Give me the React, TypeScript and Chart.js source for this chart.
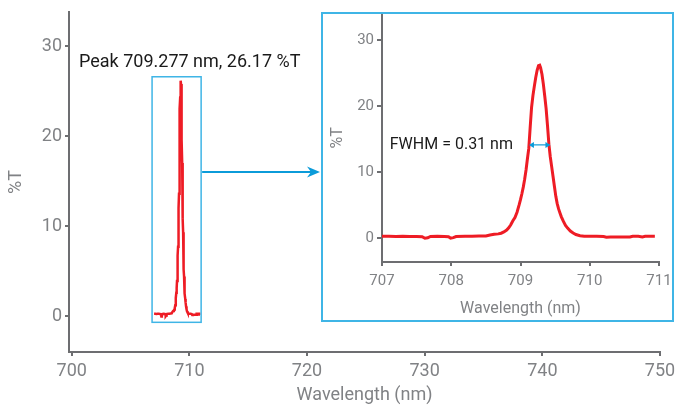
import React, { useEffect, useRef } from "react";
import { Chart, registerables } from "chart.js";

Chart.register(...registerables);

// Measured transmission spectrum around the 709 nm line
const wavelengths = [
  707.0, 707.1, 707.2, 707.3, 707.4, 707.5, 707.58, 707.62, 707.66, 707.7,
  707.8, 707.9, 707.96, 707.99, 708.03, 708.07, 708.2, 708.3, 708.4, 708.5,
  708.56, 708.62, 708.68, 708.72, 708.76, 708.8, 708.83, 708.86, 708.89, 708.92,
  708.95, 708.98, 709.0, 709.02, 709.04, 709.06, 709.08, 709.1, 709.12, 709.14,
  709.16, 709.18, 709.2, 709.22, 709.24, 709.26, 709.277, 709.29, 709.31, 709.33,
  709.35, 709.37, 709.39, 709.41, 709.43, 709.45, 709.47, 709.49, 709.51, 709.53,
  709.55, 709.57, 709.59, 709.62, 709.65, 709.68, 709.72, 709.76, 709.8, 709.86,
  709.92, 710.0, 710.1, 710.2, 710.24, 710.3, 710.4, 710.5, 710.58, 710.62,
  710.7, 710.76, 710.8, 710.94,
];
const transmittance = [
  0.25, 0.25, 0.22, 0.25, 0.24, 0.22, 0.2, -0.05, 0.02, 0.22,
  0.25, 0.22, 0.18, -0.02, 0.05, 0.22, 0.25, 0.25, 0.28, 0.3,
  0.45, 0.55, 0.62, 0.72, 0.92, 1.2, 1.55, 2.0, 2.6, 3.1,
  3.9, 5.0, 5.8, 6.7, 7.7, 8.9, 10.3, 12.0, 13.6, 16.8,
  19.8, 21.6, 23.0, 24.3, 25.4, 26.1, 26.17, 25.8, 24.8, 23.3,
  21.5, 19.6, 17.0, 14.2, 12.3, 10.8, 9.3, 7.8, 6.3, 5.2,
  4.4, 3.8, 3.2, 2.5, 1.9, 1.5, 1.05, 0.75, 0.52, 0.35,
  0.26, 0.25, 0.25, 0.22, 0.12, 0.14, 0.15, 0.13, 0.15, 0.25,
  0.25, 0.16, 0.25, 0.25,
];

const mainXTicks = [700, 710, 720, 730, 740, 750];
const mainYTicks = [0, 10, 20, 30];
const insetXTicks = [707, 708, 709, 710, 711];
const insetYTicks = [0, 10, 20, 30];

const mainXRange = [699.77, 750];
const mainYRange = [-4.0, 33.8];
const insetXRange = [707, 711];
const insetYRange = [-3.64, 34.0];

const peakWavelength = 709.277;
const peakTransmittance = 26.17;
const fwhmNm = 0.31;
const fwhmArrowLevel = 14.1;

// zoom window outlined on the full-range plot
const zoomXRange = [706.83, 711.0];
const zoomYRange = [-0.7, 26.6];
const calloutLevel = 16.0;

const FONT = "Roboto";
const AXIS = "#6d6e71";
const TICK = "#808285";
const RED = "#ee1c25";
const FRAME_BLUE = "#3fb5e6";
const ARROW_BLUE = "#0b9bd9";

const points = wavelengths.map((x, i) => ({ x, y: transmittance[i] }));

const W = 678;
const H = 405;
const INSET = { left: 321, top: 12, width: 353, height: 310 };

function axisStyle(tickSize: number, titleSize: number, tickLen: number) {
  return {
    grid: {
      drawOnChartArea: false,
      drawTicks: true,
      tickLength: tickLen,
      color: AXIS,
      lineWidth: 2,
    },
    border: { color: AXIS, width: 2 },
    ticks: {
      color: TICK,
      font: { family: FONT, size: tickSize },
      padding: 3,
      maxRotation: 0,
      autoSkip: false,
    },
    title: {
      display: true,
      color: TICK,
      font: { family: FONT, size: titleSize, lineHeight: 1.05 },
    },
  };
}

function setTicks(values: number[]) {
  return (scale: any) => {
    scale.ticks = values.map((v) => ({ value: v }));
  };
}

const mainOverlay = {
  id: "mainOverlay",
  afterDatasetsDraw(chart: any) {
    const { ctx, scales } = chart;
    const xs = scales.x;
    const ys = scales.y;
    const x0 = xs.getPixelForValue(zoomXRange[0]);
    const x1 = xs.getPixelForValue(zoomXRange[1]);
    const y0 = ys.getPixelForValue(zoomYRange[1]);
    const y1 = ys.getPixelForValue(zoomYRange[0]);
    ctx.save();
    ctx.strokeStyle = FRAME_BLUE;
    ctx.lineWidth = 1.5;
    ctx.strokeRect(x0, y0, x1 - x0, y1 - y0);

    // callout arrow to the magnified view
    const ay = ys.getPixelForValue(calloutLevel);
    const tipX = INSET.left - 1;
    ctx.strokeStyle = ARROW_BLUE;
    ctx.fillStyle = ARROW_BLUE;
    ctx.lineWidth = 2;
    ctx.beginPath();
    ctx.moveTo(x1 + 1, ay);
    ctx.lineTo(tipX - 8, ay);
    ctx.stroke();
    ctx.beginPath();
    ctx.moveTo(tipX, ay);
    ctx.lineTo(tipX - 13, ay - 5.5);
    ctx.lineTo(tipX - 9, ay);
    ctx.lineTo(tipX - 13, ay + 5.5);
    ctx.closePath();
    ctx.fill();

    ctx.fillStyle = "#1a1a1a";
    ctx.font = `18px ${FONT}`;
    ctx.textAlign = "left";
    ctx.textBaseline = "middle";
    ctx.fillText(
      `Peak ${peakWavelength.toFixed(3)} nm, ${peakTransmittance.toFixed(2)} %T`,
      79,
      62
    );
    ctx.restore();
  },
};

const insetOverlay = {
  id: "insetOverlay",
  afterDatasetsDraw(chart: any) {
    const { ctx, scales, width, height } = chart;
    const xs = scales.x;
    const ys = scales.y;
    ctx.save();
    ctx.strokeStyle = FRAME_BLUE;
    ctx.lineWidth = 2;
    ctx.strokeRect(1, 1, width - 2, height - 2);

    const xl = xs.getPixelForValue(peakWavelength - fwhmNm / 2);
    const xr = xs.getPixelForValue(peakWavelength + fwhmNm / 2);
    const y = ys.getPixelForValue(fwhmArrowLevel);
    ctx.strokeStyle = ARROW_BLUE;
    ctx.fillStyle = ARROW_BLUE;
    ctx.lineWidth = 1.2;
    ctx.beginPath();
    ctx.moveTo(xl + 3, y);
    ctx.lineTo(xr - 3, y);
    ctx.stroke();
    const head = (tx: number, dir: number) => {
      ctx.beginPath();
      ctx.moveTo(tx, y);
      ctx.lineTo(tx - dir * 5, y - 3);
      ctx.lineTo(tx - dir * 5, y + 3);
      ctx.closePath();
      ctx.fill();
    };
    head(xl, -1);
    head(xr, 1);

    ctx.fillStyle = "#1a1a1a";
    ctx.font = `16px ${FONT}`;
    ctx.textAlign = "right";
    ctx.textBaseline = "middle";
    ctx.fillText(`FWHM = ${fwhmNm.toFixed(2)} nm`, xl - 16, y);
    ctx.restore();
  },
};

export default function App() {
  const mainRef = useRef<HTMLCanvasElement | null>(null);
  const insetRef = useRef<HTMLCanvasElement | null>(null);

  useEffect(() => {
    const mainAxes = axisStyle(18, 18, 4);
    const main = new Chart(mainRef.current as HTMLCanvasElement, {
      type: "line",
      data: {
        datasets: [
          {
            data: points,
            borderColor: RED,
            borderWidth: 2.5,
            pointRadius: 0,
            tension: 0,
          },
        ],
      },
      options: {
        responsive: false,
        animation: false,
        devicePixelRatio: 1,
        layout: { padding: { top: 12, right: 18, left: 0, bottom: 0 } },
        plugins: { legend: { display: false }, tooltip: { enabled: false } },
        scales: {
          x: {
            type: "linear",
            min: mainXRange[0],
            max: mainXRange[1],
            ...mainAxes,
            ticks: { ...mainAxes.ticks, padding: 5 },
            title: {
              ...mainAxes.title,
              text: "Wavelength (nm)",
              padding: { top: 0, bottom: 0 },
            },
            afterBuildTicks: setTicks(mainXTicks),
            afterFit: (s: any) => {
              s.height = 53;
              s.paddingLeft = 0;
              s.paddingRight = 0;
            },
          },
          y: {
            type: "linear",
            min: mainYRange[0],
            max: mainYRange[1],
            ...mainAxes,
            title: { ...mainAxes.title, text: "%T", padding: { top: 7, bottom: 0 } },
            afterBuildTicks: setTicks(mainYTicks),
            afterFit: (s: any) => {
              s.width = 69;
              s.paddingTop = 0;
              s.paddingBottom = 0;
            },
          },
        },
      },
      plugins: [mainOverlay],
    } as any);

    const insetAxes = axisStyle(15, 16, 5);
    const inset = new Chart(insetRef.current as HTMLCanvasElement, {
      type: "line",
      data: {
        datasets: [
          {
            data: points,
            borderColor: RED,
            borderWidth: 3,
            pointRadius: 0,
            tension: 0,
          },
        ],
      },
      options: {
        responsive: false,
        animation: false,
        devicePixelRatio: 1,
        layout: { padding: { top: 1.5, right: 15, left: 0, bottom: 0 } },
        plugins: { legend: { display: false }, tooltip: { enabled: false } },
        scales: {
          x: {
            type: "linear",
            min: insetXRange[0],
            max: insetXRange[1],
            ...insetAxes,
            grid: { ...insetAxes.grid, tickLength: 4 },
            ticks: { ...insetAxes.ticks, padding: 6 },
            title: {
              ...insetAxes.title,
              text: "Wavelength (nm)",
              padding: { top: 0, bottom: 5 },
            },
            afterBuildTicks: setTicks(insetXTicks),
            afterFit: (s: any) => {
              s.height = 60;
              s.paddingLeft = 0;
              s.paddingRight = 0;
            },
          },
          y: {
            type: "linear",
            min: insetYRange[0],
            max: insetYRange[1],
            ...insetAxes,
            title: { ...insetAxes.title, text: "%T", padding: { top: 9, bottom: 0 } },
            afterBuildTicks: setTicks(insetYTicks),
            afterFit: (s: any) => {
              s.width = 61;
              s.paddingTop = 0;
              s.paddingBottom = 0;
            },
          },
        },
      },
      plugins: [insetOverlay],
    } as any);

    return () => {
      main.destroy();
      inset.destroy();
    };
  }, []);

  return (
    <div
      style={{
        position: "absolute",
        left: 0,
        top: 0,
        width: W,
        height: H,
        background: "#ffffff",
      }}
    >
      <canvas
        ref={mainRef}
        width={W}
        height={H}
        style={{ position: "absolute", left: 0, top: 0 }}
      />
      <canvas
        ref={insetRef}
        width={INSET.width}
        height={INSET.height}
        style={{ position: "absolute", left: INSET.left, top: INSET.top }}
      />
    </div>
  );
}
